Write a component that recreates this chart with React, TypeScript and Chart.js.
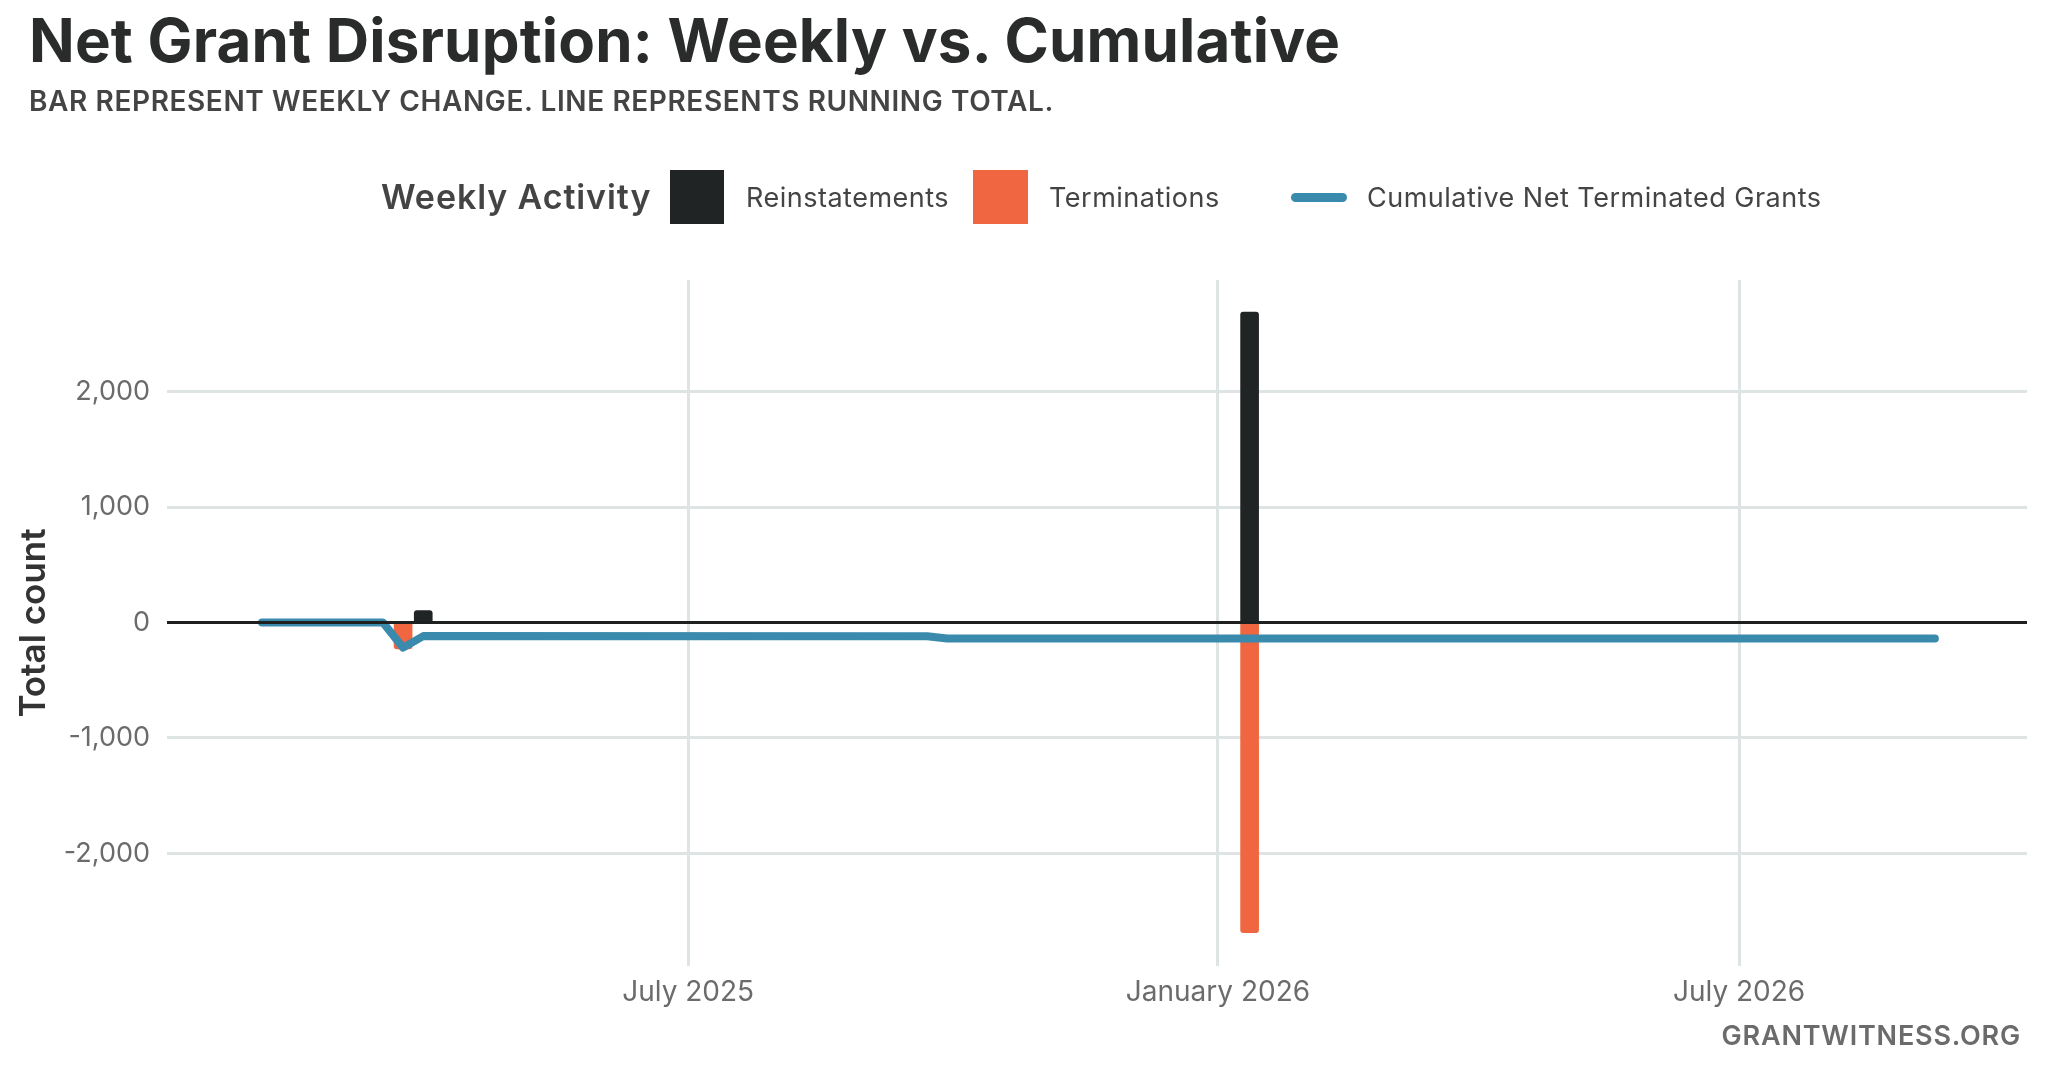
import React, { useEffect, useRef } from 'react';
import { Chart, registerables } from 'chart.js';

Chart.register(...registerables);

const FONT = 'Inter, "Noto Sans", sans-serif';

// ---- data ----
const lineDates = ['2025-02-03', '2025-03-17', '2025-03-24', '2025-03-31', '2025-09-22', '2025-09-29', '2026-09-07'];
const lineValues = [0, 0, -218, -118, -120, -138, -138];

const reinstatementDates = ['2025-03-31', '2026-01-12'];
const reinstatementValues = [104, 2688];

const terminationDates = ['2025-03-24', '2026-01-12'];
const terminationValues = [-228, -2686];

const yTickValues = [-2000, -1000, 0, 1000, 2000];
const xTickDates = ['2025-07-01', '2026-01-01', '2026-07-01'];
const xTickLabels = ['July 2025', 'January 2026', 'July 2026'];
const xDomain = ['2025-01-01', '2026-10-09'];
const yDomain = [-2975, 2966];

const legendItems = ['Reinstatements', 'Terminations', 'Cumulative Net Terminated Grants'];

const COLORS = {
  reinstatement: '#212424',
  termination: '#ef6640',
  line: '#3a8aad',
  grid: '#dee4e4',
  zero: '#1e2020',
  tick: '#6b6b6b',
};

const toDay = (s: string) => Date.parse(s + 'T00:00:00Z') / 86400000;
const pts = (dates: string[], vals: number[]) => dates.map((d, i) => ({ x: toDay(d), y: vals[i] }));
const xTickDays = xTickDates.map(toDay);

const zeroLinePlugin = {
  id: 'zeroLine',
  afterDatasetsDraw(chart: any) {
    const { ctx, chartArea, scales } = chart;
    const y = scales.y.getPixelForValue(0);
    ctx.save();
    ctx.strokeStyle = COLORS.zero;
    ctx.lineWidth = 3;
    ctx.beginPath();
    ctx.moveTo(chartArea.left, y);
    ctx.lineTo(chartArea.right, y);
    ctx.stroke();
    ctx.restore();
  },
};

function Txt(props: any) {
  const { x, rightX, base, fs, w = 400, color = '#444', ls = 0, children } = props;
  const style: any = {
    position: 'absolute',
    top: base - 0.8633 * fs,
    fontSize: fs,
    lineHeight: `${fs}px`,
    fontWeight: w,
    color,
    letterSpacing: ls,
    whiteSpace: 'nowrap',
    fontFamily: FONT,
  };
  if (rightX !== undefined) style.right = 2048 - rightX;
  else style.left = x;
  return <div style={style}>{children}</div>;
}

export default function App() {
  const ref = useRef<HTMLCanvasElement>(null);

  useEffect(() => {
    if (!ref.current) return;
    const chart = new Chart(ref.current, {
      type: 'bar',
      data: {
        datasets: [
          {
            type: 'line',
            label: legendItems[2],
            data: pts(lineDates, lineValues),
            borderColor: COLORS.line,
            borderWidth: 8,
            borderCapStyle: 'round',
            borderJoinStyle: 'round',
            pointRadius: 0,
            tension: 0,
            fill: false,
            order: 0,
          } as any,
          {
            type: 'bar',
            label: legendItems[0],
            data: pts(reinstatementDates, reinstatementValues),
            backgroundColor: COLORS.reinstatement,
            barThickness: 18,
            borderRadius: 3,
            grouped: false,
            order: 1,
          } as any,
          {
            type: 'bar',
            label: legendItems[1],
            data: pts(terminationDates, terminationValues),
            backgroundColor: COLORS.termination,
            barThickness: 18,
            borderRadius: 3,
            grouped: false,
            order: 2,
          } as any,
        ],
      },
      options: {
        animation: false,
        responsive: false,
        devicePixelRatio: 1,
        layout: { padding: { top: 280, right: 21, left: 0, bottom: 0 } },
        plugins: { legend: { display: false }, tooltip: { enabled: false }, title: { display: false } },
        scales: {
          x: {
            type: 'linear',
            offset: false,
            min: toDay(xDomain[0]),
            max: toDay(xDomain[1]),
            afterBuildTicks: (scale: any) => {
              scale.ticks = xTickDays.map((v) => ({ value: v }));
            },
            afterFit: (scale: any) => {
              scale.height = 104;
            },
            grid: { color: COLORS.grid, lineWidth: 3, drawTicks: false, offset: false },
            border: { display: false },
            ticks: {
              padding: 10,
              maxRotation: 0,
              color: COLORS.tick,
              font: { family: FONT, size: 28 },
              callback: (v: any) => {
                const i = xTickDays.indexOf(Number(v));
                return i >= 0 ? xTickLabels[i] : '';
              },
            },
          },
          y: {
            type: 'linear',
            min: yDomain[0],
            max: yDomain[1],
            afterBuildTicks: (scale: any) => {
              scale.ticks = yTickValues.map((v) => ({ value: v }));
            },
            afterFit: (scale: any) => {
              scale.width = 167;
            },
            grid: {
              color: (c: any) => (c.tick && c.tick.value === 0 ? 'rgba(0,0,0,0)' : COLORS.grid),
              lineWidth: 3,
              drawTicks: false,
            },
            border: { display: false },
            title: {
              display: true,
              text: 'Total count',
              color: '#333',
              font: { family: FONT, size: 35, weight: '600' },
              padding: { top: 13, bottom: 0 },
            },
            ticks: {
              padding: 17,
              color: COLORS.tick,
              font: { family: FONT, size: 27 },
              callback: (v: any) => Number(v).toLocaleString('en-US'),
            },
          },
        },
      },
      plugins: [zeroLinePlugin],
    } as any);
    return () => chart.destroy();
  }, []);

  return (
    <div style={{ position: 'fixed', left: 0, top: 0, width: 2048, height: 1070, background: '#fff', overflow: 'hidden' }}>
      <canvas ref={ref} width={2048} height={1070} style={{ position: 'absolute', left: 0, top: 0, width: 2048, height: 1070 }} />
      <Txt x={29} base={62} fs={60} w={700} color="#2a2c2c" ls={0.2}>
        Net Grant Disruption: Weekly vs. Cumulative
      </Txt>
      <Txt x={29} base={110.7} fs={28} w={600} color="#444" ls={0.6}>
        BAR REPRESENT WEEKLY CHANGE. LINE REPRESENTS RUNNING TOTAL.
      </Txt>
      {/* legend */}
      <Txt x={381} base={209} fs={34} w={600} color="#444" ls={0.9}>
        Weekly Activity
      </Txt>
      <div style={{ position: 'absolute', left: 670, top: 170, width: 54, height: 54, background: COLORS.reinstatement }} />
      <Txt x={746} base={207} fs={27} color="#444" ls={0.5}>
        {legendItems[0]}
      </Txt>
      <div style={{ position: 'absolute', left: 973, top: 170, width: 55, height: 54, background: COLORS.termination }} />
      <Txt x={1049} base={207} fs={27} color="#444" ls={0.5}>
        {legendItems[1]}
      </Txt>
      <div style={{ position: 'absolute', left: 1291, top: 193, width: 56, height: 9, borderRadius: 5, background: COLORS.line }} />
      <Txt x={1367} base={207} fs={27} color="#444" ls={0.5}>
        {legendItems[2]}
      </Txt>
      <Txt rightX={2021} base={1045} fs={27} w={600} color="#6b6b6b" ls={0.8}>
        GRANTWITNESS.ORG
      </Txt>
    </div>
  );
}
